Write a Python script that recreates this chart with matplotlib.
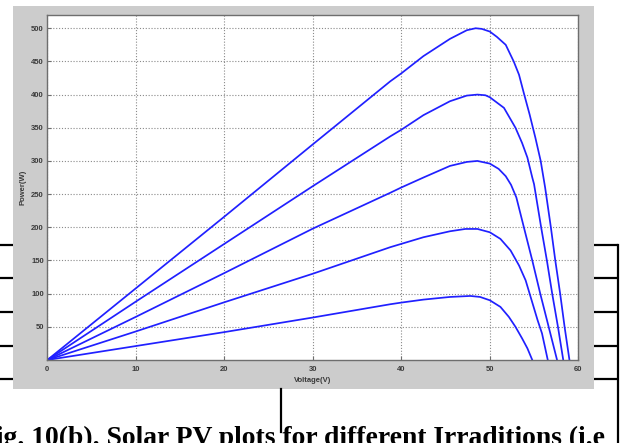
import matplotlib
matplotlib.use("Agg")
import matplotlib.pyplot as plt
from matplotlib.patches import Rectangle


# -----------------------------
# Data: P-V curves, one per irradiation level
# -----------------------------
VOLT_1000 = [0, 10, 20, 30, 38.75, 40, 42.5, 45.5, 47.4, 48.4, 49.1, 50, 50.8,
             51.8, 52.7, 53.3, 53.85, 54.5, 55.15, 55.75, 56.25, 56.9, 57.4,
             57.95, 58.45, 59.0]
POWER_1000 = [0, 108, 216, 325, 420, 432, 458, 484, 497, 500, 499, 495, 487,
              475, 450, 430, 402, 370, 335, 300, 260, 200, 150,
              100, 50, 0]

VOLT_800 = [0, 10, 20, 30, 38.75, 40, 42.5, 45.5, 47.4, 48.6, 49.5, 50, 51.6,
            52.9, 53.65, 54.25, 54.8, 55.0, 55.8, 56.45, 57.05, 57.7, 58.3]
POWER_800 = [0, 88, 175, 262, 337, 347, 369, 390, 398.5, 400, 399, 396, 380,
             350, 327, 305, 275, 265, 200, 150, 100, 50, 0]

VOLT_600 = [0, 10, 20, 30, 38.75, 40, 42.5, 45.5, 47.4, 48.6, 50, 51.0, 51.8,
            52.4, 53.0, 53.85, 54.8, 55.7, 56.65, 57.6]
POWER_600 = [0, 65, 131, 198, 252, 260, 275, 292.5, 298.5, 300, 296, 288, 277,
             264, 245, 200, 150, 100, 50, 0]

VOLT_400 = [0, 10, 20, 30, 38.75, 40, 42.5, 45.5, 47.25, 48.6, 50, 51.2, 52.35,
            53.3, 54.05, 54.5, 55.4, 55.9, 56.55]
POWER_400 = [0, 43, 87, 130, 170, 175, 185, 194, 197.5, 197.5, 192.5, 182.5, 165,
             142.5, 120, 100, 60, 40, 0]

VOLT_200 = [0, 10, 20, 30, 38.75, 40, 42.5, 45.5, 47.8, 48.9, 50, 51.2, 52.15,
            52.9, 53.65, 54.25, 54.8]
POWER_200 = [0, 21, 42, 64, 84, 86.5, 91, 95, 96.5, 95, 90, 80, 65,
             50, 32.5, 17.5, 0]

X_TICKS = [0, 10, 20, 30, 40, 50, 60]
Y_TICKS = [50, 100, 150, 200, 250, 300, 350, 400, 450, 500]

CAPTION = "Fig. 10(b). Solar PV plots for different Irraditions (i.e"


# -----------------------------
# Theme
# -----------------------------
THEME = {
    "panel": "#cccccc",
    "curve": "#2020ff",
    "grid":  "#8a8a8a",
    "frame": "#6e6e6e",
    "text":  "#3a3a3a",
    "rule":  "#000000",
}
TICK_FONT = ["Liberation Sans Narrow", "Liberation Sans", "DejaVu Sans"]


fig = plt.figure(figsize=(6.26, 4.43), dpi=100)

# background layer in pixel units: grey figure panel, table rules, caption
bg = fig.add_axes([0, 0, 1, 1], zorder=0)
bg.set_xlim(0, 626)
bg.set_ylim(443, 0)
bg.axis("off")
bg.add_patch(Rectangle((13, 6), 581, 383, facecolor=THEME["panel"], edgecolor="none"))

for y in [245, 278, 312, 346, 379]:
    bg.plot([0, 13], [y, y], color=THEME["rule"], lw=1.6, solid_capstyle="butt")
    bg.plot([594, 618], [y, y], color=THEME["rule"], lw=1.6, solid_capstyle="butt")
bg.plot([618, 618], [245, 443], color=THEME["rule"], lw=1.6)
bg.plot([281, 281], [389, 432], color=THEME["rule"], lw=1.6)

bg.text(605, 445, CAPTION, ha="right", va="baseline",
        family=["Liberation Serif", "DejaVu Serif"], fontweight="bold",
        fontsize=19.9, color="black")

# plot area
ax = fig.add_axes([0.0756, 0.1874, 0.8482, 0.7788], zorder=1)
ax.set_facecolor("white")

series = [
    (VOLT_1000, POWER_1000),
    (VOLT_800, POWER_800),
    (VOLT_600, POWER_600),
    (VOLT_400, POWER_400),
    (VOLT_200, POWER_200),
]
for volts, power in series:
    ax.plot(volts, power, color=THEME["curve"], lw=1.25,
            solid_joinstyle="round")

ax.set_xlim(0, 60)
ax.set_ylim(0, 520)
ax.set_xticks(X_TICKS)
ax.set_yticks(Y_TICKS)
ax.grid(True, linestyle=(0, (1, 1.6)), color=THEME["grid"], lw=0.8)

for spine in ax.spines.values():
    spine.set_color(THEME["frame"])
    spine.set_linewidth(1.0)

ax.tick_params(direction="in", length=3, color=THEME["frame"],
               labelsize=5.5, labelcolor=THEME["text"])
ax.tick_params(axis="x", pad=4)
ax.tick_params(axis="y", pad=2.5)
for lbl in ax.get_xticklabels() + ax.get_yticklabels():
    lbl.set_fontweight("bold")
    lbl.set_family(TICK_FONT)

ax.set_xlabel("Voltage(V)", fontsize=5.5, fontweight="bold",
              color=THEME["text"], family=TICK_FONT, labelpad=3)
ax.set_ylabel("Power(W)", fontsize=5.5, fontweight="bold",
              color=THEME["text"], family=TICK_FONT, labelpad=3)

fig.savefig("out.png", dpi=100)
plt.close(fig)
